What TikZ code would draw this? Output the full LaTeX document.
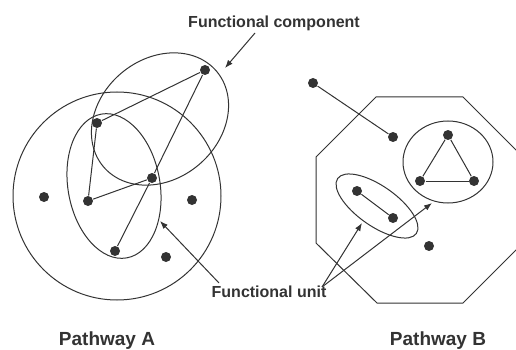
\documentclass[tikz,border=0pt]{standalone}
\usepackage{fontspec}
\setmainfont{Liberation Sans}
\usetikzlibrary{arrows.meta}
\definecolor{ink}{gray}{0.2}

\begin{document}
\begin{tikzpicture}[x=1pt,y=-1pt,line width=1pt,color=ink,
    blob/.style={circle,fill=ink,draw=none,inner sep=0pt,minimum size=10pt},
    tag/.style={anchor=base,inner sep=0pt,font=\fontsize{16}{18}\selectfont\bfseries},
    title/.style={tag,font=\fontsize{19}{22}\selectfont\bfseries},
    pointer/.style={-{Latex[length=8pt,width=6pt]}}]

  \useasboundingbox (0,0) rectangle (516,350);

  \draw (117,196) circle (104);
  \draw[rotate around={40:(160,119)}] (160,119) ellipse (74 and 60);
  \draw[rotate around={100:(114,186)}] (114,186) ellipse (73 and 46);

  \draw (376,97) -- (463,97) -- (521,155) -- (521,245) -- (463,303)
    -- (377,303) -- (316,243) -- (316,157) -- cycle;
  \draw (448,162) ellipse (45 and 41);
  \draw[rotate around={-35:(377,206)}] (377,206) ellipse (48 and 20);

  \foreach \n/\x/\y in {a1/205/70,a2/97/123,a3/152/178,a4/88/201,a5/115/251,
      a6/44/197,a7/192/200,a8/166/257,
      b1/313/83,b2/393/137,b3/448/135,b4/420/181,b5/474/181,
      b6/357/191,b7/393/218,b8/429/246}
    \node[blob] (\n) at (\x,\y) {};

  \foreach \p/\q in {a1/a2,a1/a3,a2/a4,a4/a3,a3/a5,
      b1/b2,b3/b4,b3/b5,b4/b5,b6/b7}
    \draw (\p) -- (\q);

  \node[tag] (comp) at (274,28) {Functional component};
  \node[tag] (unit) at (269,297) {Functional unit};
  \node[title] (pa) at (107,345) {Pathway A};
  \node[title] (pb) at (438,345) {Pathway B};

  \coordinate (comptail) at (255,33);
  \coordinate (comptip) at (225,68);
  \coordinate (unittail) at (219,283);
  \coordinate (unitfork) at (322,287);
  \coordinate (tipa) at (160,221);
  \coordinate (tipb) at (362,223);
  \coordinate (tipc) at (432,203);

  \draw[pointer] (comptail) -- (comptip);
  \draw[pointer] (unittail) -- (tipa);
  \draw[pointer] (unitfork) -- (tipb);
  \draw[pointer] (unitfork) -- (tipc);
\end{tikzpicture}
\end{document}
